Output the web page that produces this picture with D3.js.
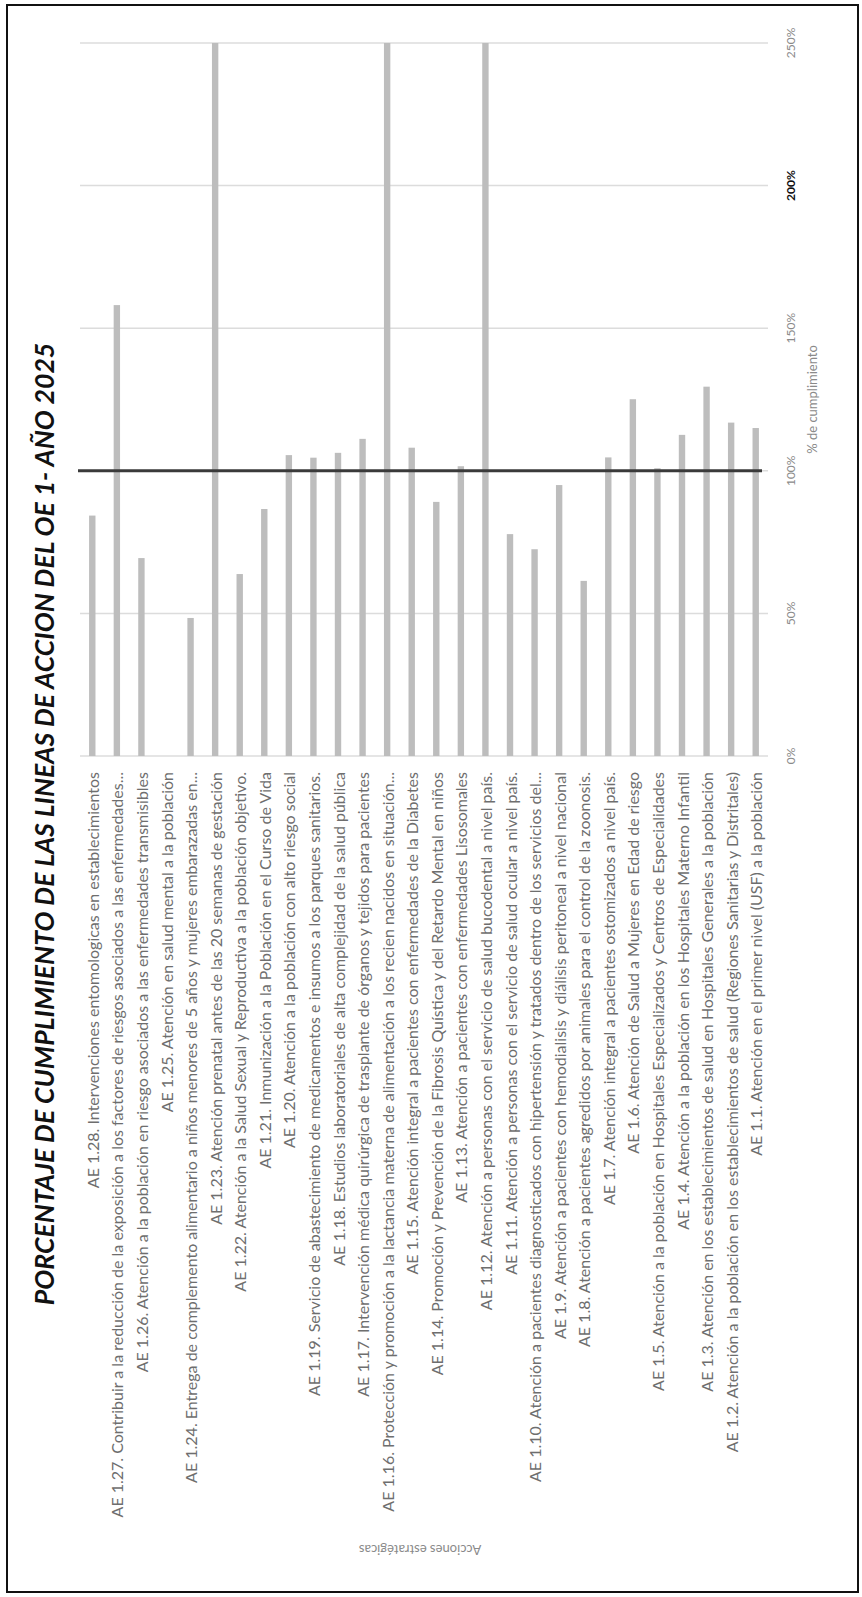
<!DOCTYPE html>
<html>
<head>
<meta charset="utf-8">
<script src="https://cdn.jsdelivr.net/npm/d3@7/dist/d3.min.js"></script>
<style>
  html, body { margin: 0; padding: 0; background: #fff; }
  svg { display: block; }
</style>
</head>
<body>
<svg id="chart" width="862" height="1597"></svg>
<script>
// ---- DATA ----
const title = "PORCENTAJE DE CUMPLIMIENTO DE LAS LINEAS DE ACCION DEL OE 1- AÑO 2025";
const categories = [
  "AE 1.28. Intervenciones entomologicas en establecimientos",
  "AE 1.27. Contribuir a la reducción de la exposición a los factores de riesgos asociados a las enfermedades...",
  "AE 1.26. Atención a la población en riesgo asociados a las enfermedades transmisibles",
  "AE 1.25. Atención en salud mental a la población",
  "AE 1.24. Entrega de complemento alimentario a niños menores de 5 años y mujeres embarazadas en...",
  "AE 1.23. Atención prenatal antes de las 20 semanas de gestación",
  "AE 1.22. Atención a la Salud Sexual y Reproductiva a la población objetivo.",
  "AE 1.21. Inmunización a la Población en el Curso de Vida",
  "AE 1.20. Atención a la población con alto riesgo social",
  "AE 1.19. Servicio de abastecimiento de medicamentos e insumos a los parques sanitarios.",
  "AE 1.18. Estudios laboratoriales de alta complejidad de la salud pública",
  "AE 1.17. Intervención médica quirúrgica de trasplante de órganos y tejidos para pacientes",
  "AE 1.16. Protección y promoción a la lactancia materna de alimentación a los recien nacidos en situación...",
  "AE 1.15. Atención integral a pacientes con enfermedades de la Diabetes",
  "AE 1.14. Promoción y Prevención de la Fibrosis Quística y del Retardo Mental en niños",
  "AE 1.13. Atención a pacientes con enfermedades Lisosomales",
  "AE 1.12. Atención a personas con el servicio de salud bucodental a nivel país.",
  "AE 1.11. Atención a personas con el servicio de salud ocular a nivel país.",
  "AE 1.10. Atención a pacientes diagnosticados con hipertensión y tratados dentro de los servicios del...",
  "AE 1.9. Atención a pacientes con hemodialisis y diálisis peritoneal a nivel nacional",
  "AE 1.8. Atención a pacientes agredidos por animales para el control de la zoonosis.",
  "AE 1.7. Atención integral a pacientes ostomizados a nivel país.",
  "AE 1.6. Atención de Salud a Mujeres en Edad de riesgo",
  "AE 1.5. Atención a la población en Hospitales Especializados y Centros de Especialidades",
  "AE 1.4. Atención a la población en los Hospitales Materno Infantil",
  "AE 1.3. Atención en los establecimientos de salud en Hospitales Generales a la población",
  "AE 1.2. Atención  a la población en los establecimientos de salud (Regiones Sanitarias y Distritales)",
  "AE 1.1. Atención  en el primer nivel (USF) a la población"
];
const values = [84.3, 158.1, 69.4, 0, 48.4, 250, 63.8, 86.6, 105.5, 104.6, 106.3, 111.2, 250, 108.1,
                89.1, 101.6, 250, 77.8, 72.5, 95.0, 61.4, 104.7, 125.1, 100.9, 112.6, 129.5, 116.9, 115.0];
const tickValues = [0, 50, 100, 150, 200, 250];
const targetValue = 100;
const xAxisTitle = "% de cumplimiento";
const yAxisTitle = "Acciones estratégicas";

// ---- LAYOUT (chart drawn unrotated, then turned -90deg) ----
const W = 862, H = 1597;
const FONT = "Lato, 'Open Sans', 'DejaVu Sans', sans-serif";
const svg = d3.select("#chart");

// border
svg.append("rect").attr("x", 7).attr("y", 5).attr("width", 851).attr("height", 1587)
  .attr("fill", "none").attr("stroke", "#111").attr("stroke-width", 2);

// inner frame: u along original horizontal (image up), v along original vertical (image right)
const g = svg.append("g").attr("transform", `translate(0,${H}) rotate(-90)`);

const x = d3.scaleLinear().domain([0, 250]).range([841, 1554]);
const y = d3.scaleBand().domain(categories).range([80, 768]).paddingInner(0.74).paddingOuter(0.37);

// gridlines
g.append("g").selectAll("line").data(tickValues).join("line")
  .attr("x1", d => x(d)).attr("x2", d => x(d))
  .attr("y1", 80).attr("y2", 768)
  .attr("stroke", "#dcdcdc").attr("stroke-width", 1.5);

// bars
g.append("g").selectAll("rect").data(values).join("rect")
  .attr("x", x(0))
  .attr("y", (d, i) => y(categories[i]))
  .attr("width", d => x(Math.min(d, 250)) - x(0))
  .attr("height", y.bandwidth())
  .attr("fill", "#bdbdbd");

// target line at 100%
g.append("line")
  .attr("x1", x(targetValue)).attr("x2", x(targetValue))
  .attr("y1", 78).attr("y2", 762)
  .attr("stroke", "#3a3a3a").attr("stroke-width", 3);

// value tick labels
g.append("g").selectAll("text").data(tickValues).join("text")
  .attr("x", d => x(d)).attr("y", 790)
  .attr("text-anchor", "middle").attr("dominant-baseline", "central")
  .attr("font-family", FONT).attr("font-size", 12)
  .attr("fill", d => d === 200 ? "#111" : "#8a8a8a")
  .attr("font-weight", d => d === 200 ? "bold" : "normal")
  .text(d => d + "%");

// x axis title
g.append("text")
  .attr("x", (x(0) + x(250)) / 2).attr("y", 812)
  .attr("text-anchor", "middle").attr("dominant-baseline", "central")
  .attr("font-family", FONT).attr("font-size", 13).attr("fill", "#8a8a8a")
  .text(xAxisTitle);

// category labels
const labels = g.append("g").selectAll("text").data(categories).join("text")
  .attr("x", 825)
  .attr("y", d => y(d) + y.bandwidth() / 2)
  .attr("text-anchor", "end").attr("dominant-baseline", "central")
  .attr("font-family", FONT).attr("font-size", 12).attr("fill", "#6e6e6e")
  .text(d => d);
// fit label size so the first label spans ~430px as in the reference
const firstLen = labels.nodes()[0].getComputedTextLength();
const labelSize = Math.max(9, Math.min(16, 12 * 430 / firstLen));
labels.attr("font-size", labelSize);

// y axis title (rotated within original frame)
g.append("text")
  .attr("transform", `translate(47,420) rotate(-90)`)
  .attr("text-anchor", "middle").attr("dominant-baseline", "central")
  .attr("font-family", FONT).attr("font-size", 13).attr("fill", "#8a8a8a")
  .text(yAxisTitle);

// title
const t = g.append("text")
  .attr("x", 773).attr("y", 44)
  .attr("text-anchor", "middle").attr("dominant-baseline", "central")
  .attr("font-family", FONT).attr("font-size", 24)
  .attr("font-weight", "bold").attr("font-style", "italic").attr("fill", "#111")
  .text(title);
const tLen = t.node().getComputedTextLength();
t.attr("font-size", Math.max(16, Math.min(32, 24 * 963 / tLen)));
</script>
</body>
</html>
